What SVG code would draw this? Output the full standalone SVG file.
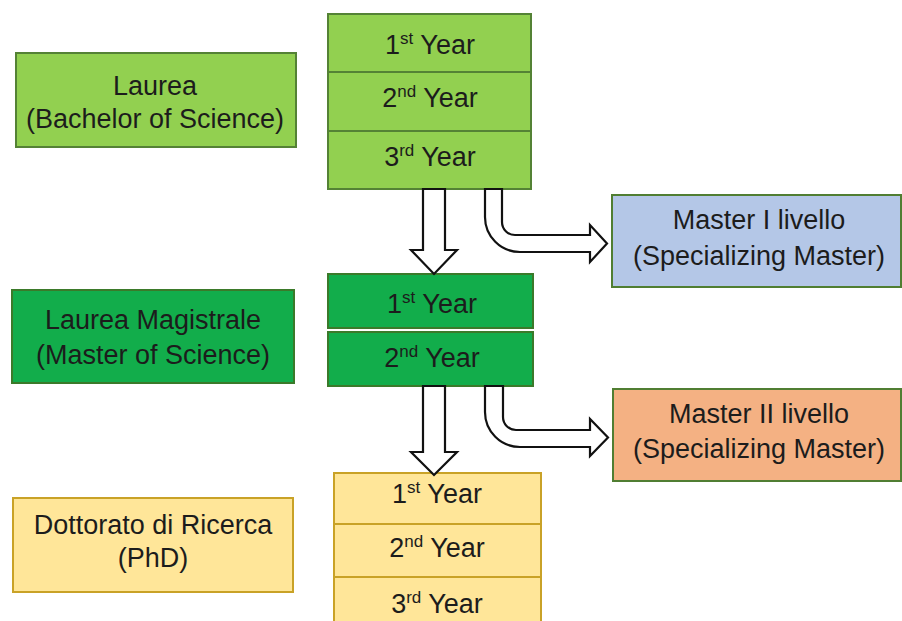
<svg xmlns="http://www.w3.org/2000/svg" width="902" height="621" viewBox="0 0 902 621">
<style>
text{font-family:"Liberation Sans",Arial,sans-serif;font-size:27px;fill:#1c1c1c;text-anchor:middle}
.sup{font-size:17px}
.lg{fill:#92D050;stroke:#548235;stroke-width:2}
.dg{fill:#12AD4B;stroke:#3B7A2A;stroke-width:2}
.bl{fill:#B4C7E7;stroke:#507E32;stroke-width:2}
.or{fill:#F4B183;stroke:#507E32;stroke-width:2}
.ye{fill:#FFE699;stroke:#C9A227;stroke-width:2}
.arr{fill:#fff;stroke:#111;stroke-width:2.2;stroke-linejoin:miter}
</style>
<g id="laurea"><rect class="lg" x="16" y="53" width="280" height="94"/><text x="155" y="95">Laurea</text><text x="155" y="128">(Bachelor of Science)</text></g>
<g id="laurea-years">
<rect class="lg" x="328" y="14" width="203" height="58"/><text x="430" y="54">1<tspan class="sup" dy="-10">st</tspan><tspan dy="10"> Year</tspan></text>
<rect class="lg" x="328" y="72" width="203" height="59"/><text x="430" y="107">2<tspan class="sup" dy="-10">nd</tspan><tspan dy="10"> Year</tspan></text>
<rect class="lg" x="328" y="131" width="203" height="58"/><text x="430" y="166">3<tspan class="sup" dy="-10">rd</tspan><tspan dy="10"> Year</tspan></text>
</g>
<g id="master1"><rect class="bl" x="612" y="195" width="289" height="92"/><text x="759" y="229">Master I livello</text><text x="759" y="265">(Specializing Master)</text></g>
<g id="magistrale"><rect class="dg" x="12" y="290" width="282" height="93"/><text x="153" y="329">Laurea Magistrale</text><text x="153" y="364">(Master of Science)</text></g>
<g id="magistrale-years">
<rect class="dg" x="328" y="274" width="205" height="54"/><text x="432" y="313">1<tspan class="sup" dy="-10">st</tspan><tspan dy="10"> Year</tspan></text>
<rect class="dg" x="328" y="332" width="205" height="54"/><text x="432" y="367">2<tspan class="sup" dy="-10">nd</tspan><tspan dy="10"> Year</tspan></text>
</g>
<g id="master2"><rect class="or" x="613" y="389" width="288" height="92"/><text x="759" y="423">Master II livello</text><text x="759" y="458">(Specializing Master)</text></g>
<g id="dottorato"><rect class="ye" x="13" y="498" width="280" height="94"/><text x="153" y="534">Dottorato di Ricerca</text><text x="153" y="567">(PhD)</text></g>
<g id="dottorato-years">
<rect class="ye" x="334" y="473" width="207" height="51"/><text x="437" y="503">1<tspan class="sup" dy="-10">st</tspan><tspan dy="10"> Year</tspan></text>
<rect class="ye" x="334" y="524" width="207" height="53"/><text x="437" y="557">2<tspan class="sup" dy="-10">nd</tspan><tspan dy="10"> Year</tspan></text>
<rect class="ye" x="334" y="577" width="207" height="50"/><text x="437" y="613">3<tspan class="sup" dy="-10">rd</tspan><tspan dy="10"> Year</tspan></text>
</g>
<g id="connectors">
<path class="arr" d="M423,189 L445,189 L445,250 L457,250 L434,274 L411,250 L423,250 Z"/>
<path class="arr" d="M485,189 L502,189 L502,222 A13,13 0 0 0 515,235 L590,235 L590,225 L607,243.5 L590,262 L590,252 L520,252 A35,35 0 0 1 485,217 Z"/>
<path class="arr" d="M423,386 L445,386 L445,452 L457,452 L434,475 L411,452 L423,452 Z"/>
<path class="arr" d="M485,386 L503,386 L503,417 A13,13 0 0 0 516,430 L590,430 L590,419 L608,437.5 L590,456 L590,447 L520,447 A35,35 0 0 1 485,412 Z"/>
</g>
</svg>
